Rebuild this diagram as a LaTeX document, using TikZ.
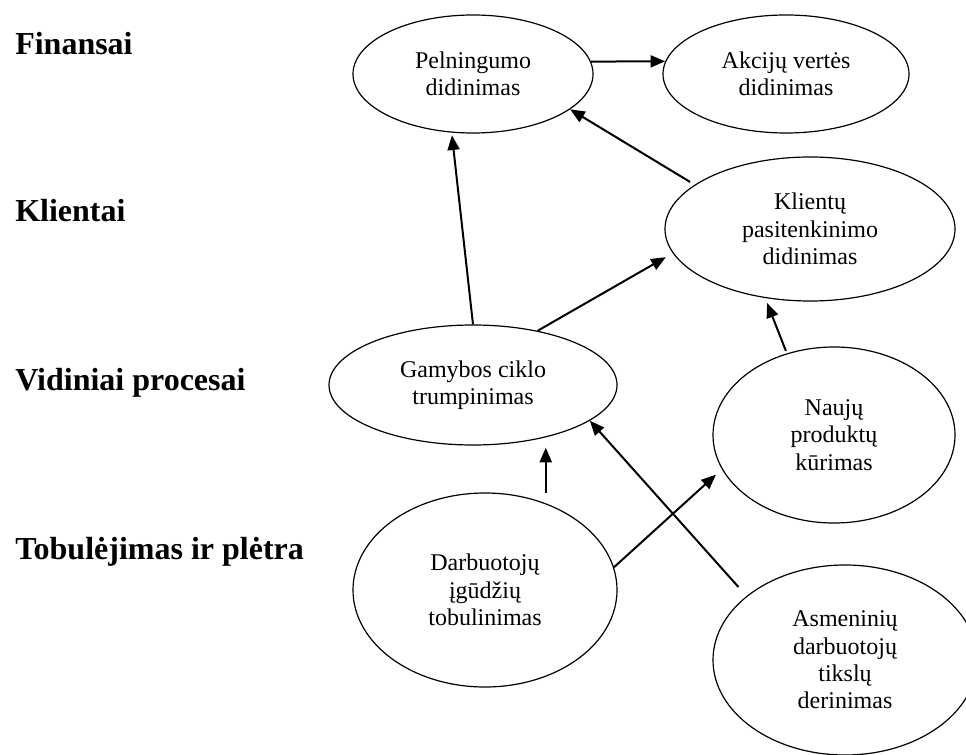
\documentclass[tikz,border=0pt]{standalone}
\usepackage{fontspec}
\setmainfont{Liberation Serif}
\usetikzlibrary{shapes.geometric,arrows.meta}

\begin{document}
\begin{tikzpicture}[x=0.75pt,y=0.75pt,yscale=-1,xscale=1,
  goal/.style={draw,ellipse,line width=0.9pt,inner sep=0pt,align=center,font=\fontsize{18}{20.5}\selectfont},
  persp/.style={anchor=base west,inner sep=0pt,font=\fontsize{24}{28}\selectfont\bfseries},
  link/.style={-{Triangle[length=11pt,width=9pt]},line width=1.5pt}]
\useasboundingbox (0,0) rectangle (966,755);
% perspektyvos
\node[persp] (fin) at (15,55) {Finansai};
\node[persp] (kl) at (15,222) {Klientai};
\node[persp] (vid) at (15,390) {Vidiniai procesai};
\node[persp] (tob) at (15,559) {Tobulėjimas ir plėtra};
% tikslai
\node[goal,minimum width=180pt,minimum height=88.5pt] (pel) at (473,74) {Pelningumo\\didinimas};
\node[goal,minimum width=184.5pt,minimum height=88.5pt] (akc) at (786,74) {Akcijų vertės\\didinimas};
\node[goal,minimum width=217.5pt,minimum height=108pt] (kli) at (810,229) {Klientų\\pasitenkinimo\\didinimas};
\node[goal,minimum width=216pt,minimum height=90pt] (gam) at (473,385) {Gamybos ciklo\\trumpinimas};
\node[goal,minimum width=181.5pt,minimum height=132pt] (nau) at (834,435) {Naujų\\produktų\\kūrimas};
\node[goal,minimum width=198pt,minimum height=145.5pt] (dar) at (485,590) {Darbuotojų\\įgūdžių\\tobulinimas};
\node[goal,minimum width=198pt,minimum height=142.5pt] (asm) at (845,660) {Asmeninių\\darbuotojų\\tikslų\\derinimas};
% rysiai
\draw[link] (pel.6) -- (akc.174);
\draw[link,shorten <=4pt] (kli.159) -- (pel.-20);
\draw[link,shorten >=2pt] (gam.north) -- (pel.-110);
\draw[link,shorten >=6pt] (gam.40) -- (kli.190);
\draw[link,shorten <=2pt,shorten >=4pt] (nau.120) -- (kli.-123);
\draw[link,shorten <=8pt,shorten >=6pt] (dar.55) -- (dar.55 |- gam.-41);
\draw[link,shorten >=6pt] (dar.10) -- (nau.197);
\draw[link,shorten <=9pt] (asm.147) -- (gam.-17);
\end{tikzpicture}
\end{document}
